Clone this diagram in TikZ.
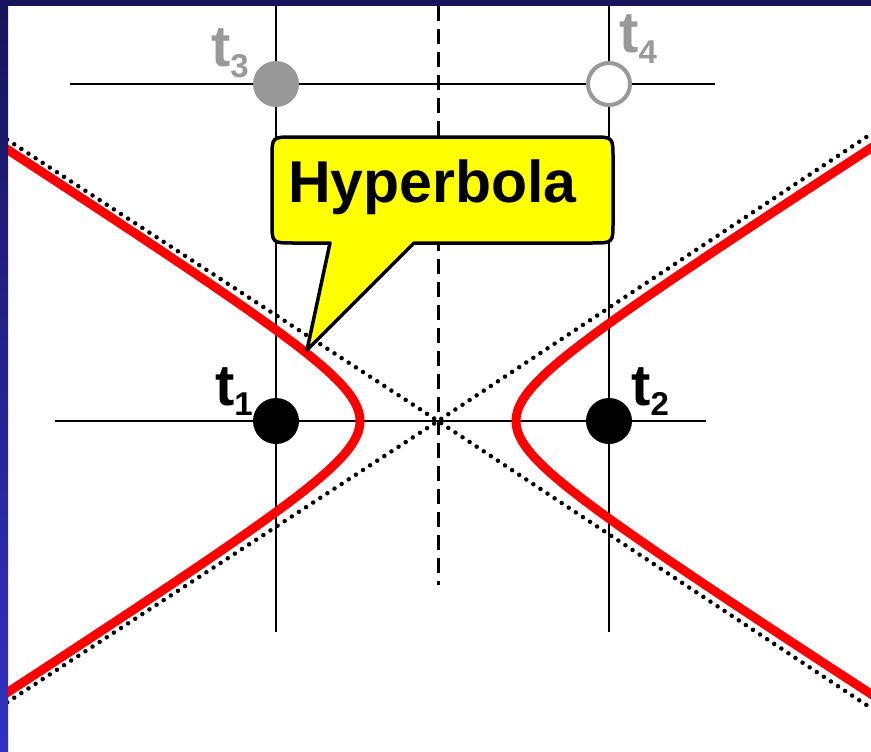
\documentclass[tikz,border=0pt]{standalone}
\usepackage{fontspec}
\setmainfont{Liberation Sans}
\usepackage{tikz}
\usetikzlibrary{positioning, calc}
\definecolor{SlideNavy}{RGB}{22,20,92}
\definecolor{SlideBlue}{RGB}{50,50,196}
\definecolor{MarkGray}{RGB}{153,153,153}
\definecolor{CurveRed}{RGB}{255,0,0}
\definecolor{NoteYellow}{RGB}{255,255,0}
\newcommand{\tsub}[1]{{\fontsize{58}{60}\selectfont t}\raisebox{-10pt}{\fontsize{33}{36}\selectfont #1}}

\begin{document}
\begin{tikzpicture}[x=1pt, y=-1pt,
    gridline/.style={line width=2.6pt, black},
    midline/.style={line width=3pt, black, dash pattern=on 15pt off 8pt},
    asym/.style={line width=4.5pt, dash pattern=on 0pt off 8.5pt, line cap=round},
    hypcurve/.style={line width=9pt, CurveRed},
    dotmark/.style={circle, inner sep=0pt, minimum size=46pt},
    tlabel/.style={inner sep=0pt, font=\bfseries},
    note/.style={line width=3.5pt, fill=NoteYellow, draw=black, line join=round}]
  \useasboundingbox (0,0) rectangle (871,752);
  \fill[white] (0,0) rectangle (871,752);
  % slide frame
  \fill[SlideNavy] (0,0) rectangle (871,6);
  \shade[top color=SlideNavy, bottom color=SlideBlue] (0,6) rectangle (8,752);

  % sample positions
  \coordinate (c1) at (276,421);
  \coordinate (c2) at (609,421);
  \coordinate (c3) at (276,84);
  \coordinate (c4) at (609,84);
  \coordinate (ctr) at (438,421);

  % grid
  \coordinate (v1top) at (276,6);   \coordinate (v1bot) at (276,632);
  \coordinate (v2top) at (609,6);   \coordinate (v2bot) at (609,632);
  \coordinate (mtop) at (438,6);    \coordinate (mbot) at (438,585);
  \coordinate (h1w) at (55,421);    \coordinate (h1e) at (706,421);
  \coordinate (h2w) at (70,84);     \coordinate (h2e) at (715,84);
  \draw[gridline] (v1top) -- (v1bot);
  \draw[gridline] (v2top) -- (v2bot);
  \draw[gridline] (h1w) -- (h1e);
  \draw[gridline] (h2w) -- (h2e);
  \draw[midline] (mtop) -- (mbot);

  % asymptotes and hyperbola
  \begin{scope}
    \clip (8,6) rectangle (871,752);
    \coordinate (a1) at (0,135); \coordinate (a2) at (880,714);
    \coordinate (a3) at (0,707); \coordinate (a4) at (880,128);
    \draw[asym] (a1) -- (ctr) -- (a2);
    \draw[asym] (a3) -- (ctr) -- (a4);
    \draw[hypcurve] plot[domain=-2.5:2.5, samples=90, variable=\u] ({438-78*cosh(\u)}, {421+50*sinh(\u)});
    \draw[hypcurve] plot[domain=-2.5:2.5, samples=90, variable=\u] ({438+78*cosh(\u)}, {421+50*sinh(\u)});
  \end{scope}

  % callout
  \coordinate (tip) at (307,350);
  \draw[note] (330,243) -- (tip) -- (414,243) -- (592,243)
    .. controls (613,243) .. (613,222) -- (613,158)
    .. controls (613,137) .. (592,137) -- (293,137)
    .. controls (272,137) .. (272,158) -- (272,222)
    .. controls (272,243) .. (293,243) -- cycle;
  \node[anchor=base west, inner sep=0pt, font=\bfseries\fontsize{59}{64}\selectfont] (hyp) at (288,202) {Hyperbola};

  % samples
  \node[dotmark, fill=black] (t1) at (c1) {};
  \node[dotmark, fill=black] (t2) at (c2) {};
  \node[dotmark, fill=MarkGray] (t3) at (c3) {};
  \node[dotmark, minimum size=42pt, fill=white, draw=MarkGray, line width=4pt] (t4) at (c4) {};

  \node[tlabel, anchor=base east] (l1) at (253,405) {\tsub{1}};
  \node[tlabel, anchor=base west] (l2) at (631,405) {\tsub{2}};
  \node[tlabel, anchor=base east, MarkGray] (l3) at (249,67) {\tsub{3}};
  \node[tlabel, anchor=base west, MarkGray] (l4) at (619,53) {\tsub{4}};
\end{tikzpicture}
\end{document}
